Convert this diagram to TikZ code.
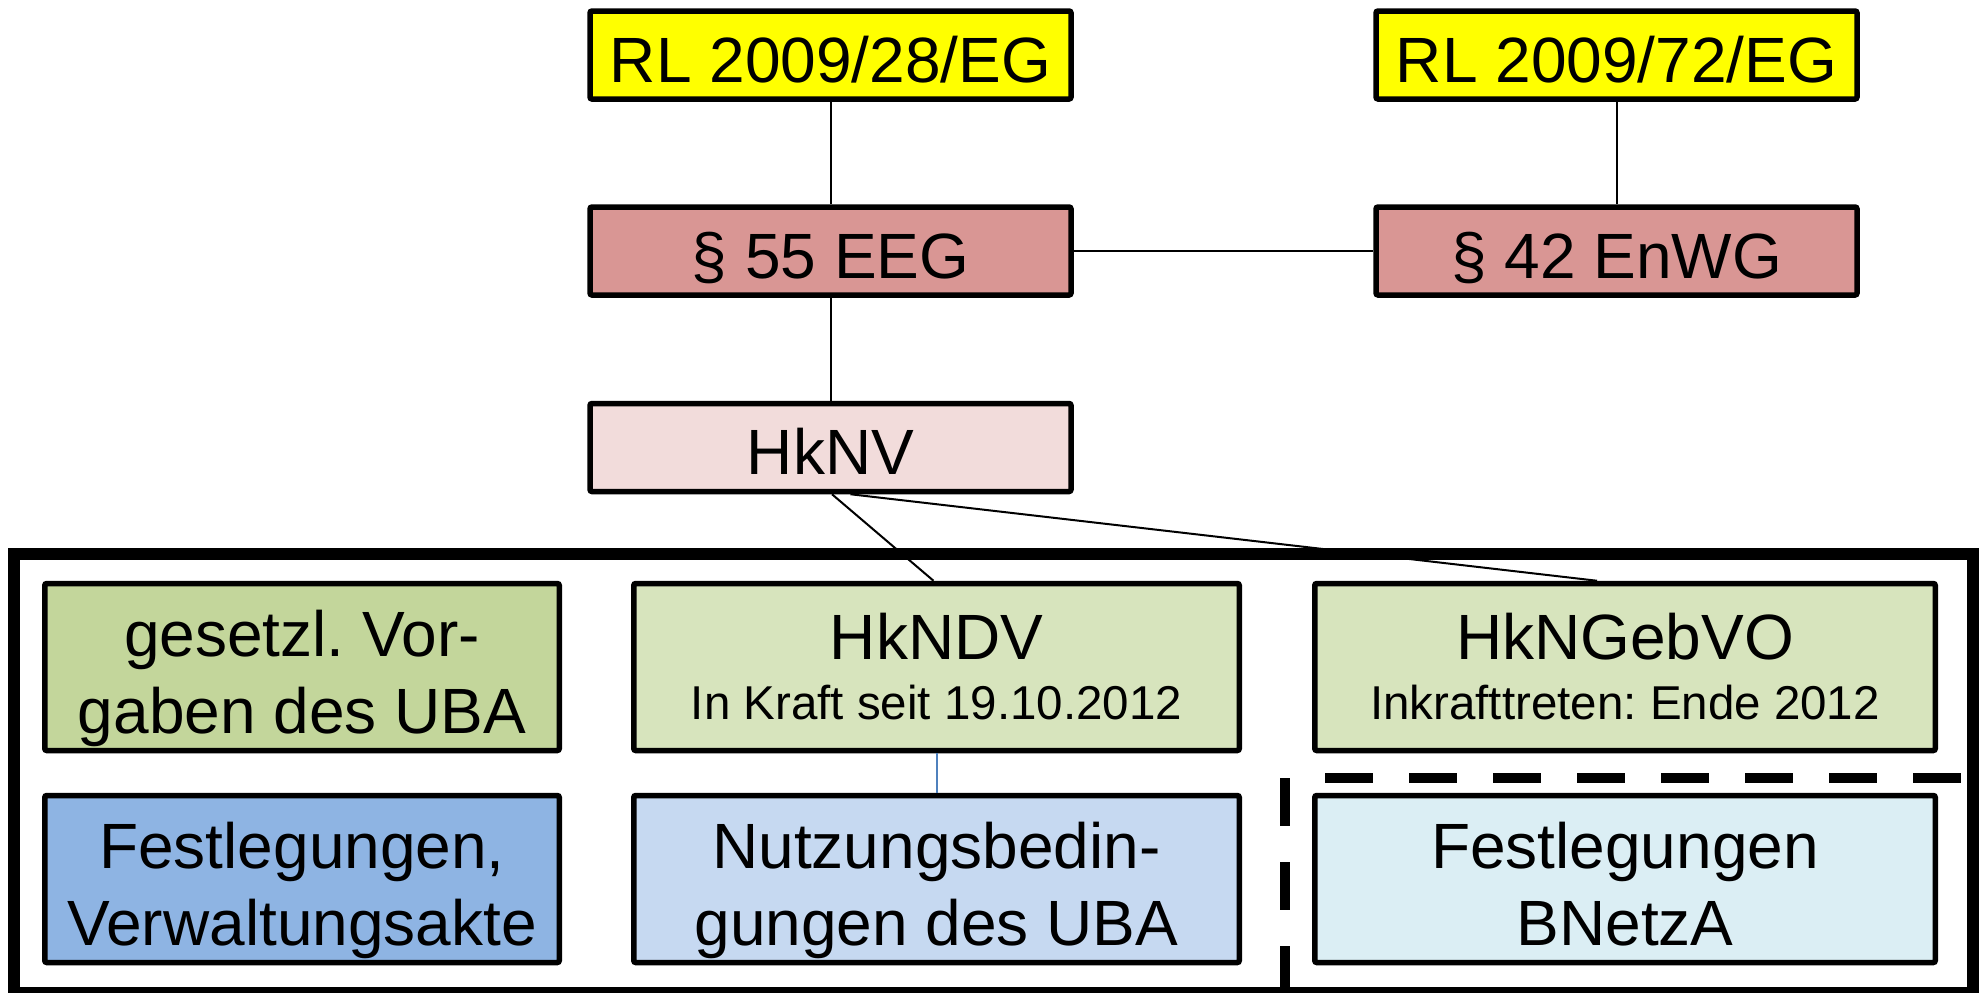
\documentclass[tikz,border=0pt]{standalone}
\usepackage{fontspec}
\setmainfont{Liberation Sans}
\definecolor{yel}{HTML}{FFFF00}
\definecolor{redmid}{HTML}{D99694}
\definecolor{redlight}{HTML}{F2DCDB}
\definecolor{olivemid}{HTML}{C3D69B}
\definecolor{olivelight}{HTML}{D7E4BD}
\definecolor{bluemid}{HTML}{8EB4E3}
\definecolor{bluelight}{HTML}{C6D9F1}
\definecolor{aqualight}{HTML}{DBEEF4}
\definecolor{linkblue}{HTML}{4F81BD}
\newcommand{\smalltxt}{\fontsize{47.5}{57}\selectfont}
\frenchspacing
\begin{document}
\begin{tikzpicture}[x=1pt,y=-1pt,
  box/.style={draw=black,line width=5.5pt,rounded corners=2pt,align=center,
    inner sep=0pt,font=\fontsize{64}{77}\selectfont},
  topbox/.style={box,minimum width=481pt,minimum height=88pt,text height=54pt,text depth=0pt},
  rowbox/.style={box,minimum height=167pt},
  twoline/.style={rowbox,text height=146pt,text depth=13.5pt},
  link/.style={line width=2pt,draw=black},
  framebox/.style={line width=12pt,draw=black},
  sepline/.style={line width=10pt,draw=black,dash pattern=on 48pt off 36pt}]
\useasboundingbox (0,0) rectangle (1984,993);
\fill[white] (0,0) rectangle (1984,993);
% outer frame
\draw[framebox] (14,554) rectangle (1973,993);
% top part
\node[topbox,fill=yel] (rl28) at (830.5,55) {RL 2009/28/EG};
\node[topbox,fill=yel] (rl72) at (1616.5,55) {RL 2009/72/EG};
\node[topbox,fill=redmid] (eeg) at (830.5,251) {§ 55 EEG};
\node[topbox,fill=redmid] (enwg) at (1616.5,251) {§ 42 EnWG};
\node[topbox,fill=redlight] (hknv) at (830.5,447.5) {HkNV};
% rows
\node[twoline,fill=olivemid,minimum width=514.5pt] (ges) at (302,667) {gesetzl. Vor-\\gaben des UBA};
\node[rowbox,fill=olivelight,minimum width=605.5pt] (hkndv) at (936.5,667) {HkNDV\\[-17pt]{\smalltxt In Kraft seit 19.10.2012}};
\node[rowbox,fill=olivelight,minimum width=620.5pt] (gebvo) at (1625,667) {HkNGebVO\\[-17pt]{\smalltxt Inkrafttreten: Ende 2012}};
\node[twoline,fill=bluemid,minimum width=514.5pt] (fest) at (302,879) {Festlegungen,\\Verwaltungsakte};
\node[twoline,fill=bluelight,minimum width=605.5pt] (nutz) at (936.5,879) {Nutzungsbedin-\\gungen des UBA};
\node[twoline,fill=aqualight,minimum width=620.5pt] (bnetza) at (1625,879) {Festlegungen\\BNetzA};
% connectors
\draw[link] (rl28) -- (eeg);
\draw[link] (eeg) -- (hknv);
\draw[link] (rl72) -- (enwg);
\draw[link] (eeg) -- (enwg);
\draw[link] ([xshift=1.5pt]hknv.south) -- ([xshift=-3pt]hkndv.north);
\draw[link] ([xshift=20pt]hknv.south) -- ([xshift=-28pt]gebvo.north);
\draw[line width=2pt,draw=linkblue] (hkndv) -- (nutz);
% dashed separator
\coordinate (corner) at (1285,778);
\coordinate (sepbottom) at (1285,993);
\coordinate (sepstart) at (1325,778);
\coordinate (sepend) at (1962,778);
\draw[sepline] (corner) -- (sepbottom);
\draw[sepline] (sepstart) -- (sepend);
\end{tikzpicture}
\end{document}
